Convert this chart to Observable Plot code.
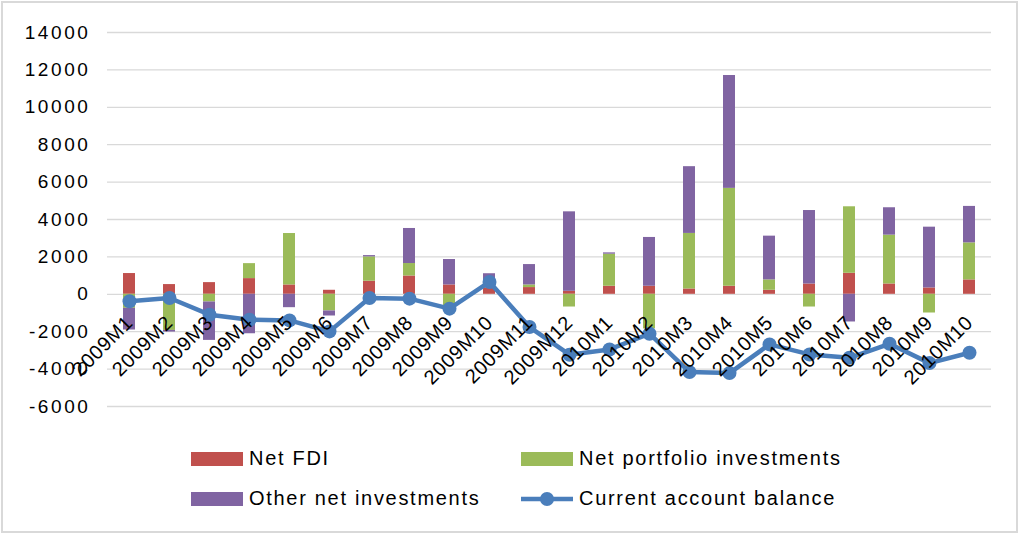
<!DOCTYPE html>
<html>
<head>
<meta charset="utf-8">
<script src="https://cdn.jsdelivr.net/npm/d3@7"></script>
<script src="https://cdn.jsdelivr.net/npm/@observablehq/plot@0.6"></script>
<style>
  html, body { margin: 0; padding: 0; background: #fff; }
  #frame {
    position: absolute; left: 1px; top: 1px; width: 1013px; height: 528px;
    border: 2px solid #d9d9d9; background: #fff; overflow: hidden;
    font-family: "Liberation Sans", Arial, sans-serif;
  }
  #chart { position: absolute; left: 0; top: 0; }
  #chart svg g[aria-label="y-axis tick label"] text { letter-spacing: 2.6px; }
  #chart svg g[aria-label="text"] text { letter-spacing: 0.6px; }
  .leg { position: absolute; display: flex; align-items: center; font-size: 20px; letter-spacing: 1.7px; color: #000; white-space: nowrap; }
  .sw { width: 52px; height: 14px; margin-right: 6px; }
</style>
</head>
<body>
<div id="frame">
  <div id="chart"></div>
</div>
<script>
const months = ["2009M1","2009M2","2009M3","2009M4","2009M5","2009M6","2009M7","2009M8","2009M9","2009M10","2009M11","2009M12",
                "2010M1","2010M2","2010M3","2010M4","2010M5","2010M6","2010M7","2010M8","2010M9","2010M10"];
const netFDI       = [1110, 520, 625, 840, 500, 215, 700, 980, 500, 350, 360, 160, 430, 430, 285, 430, 215, 550, 1125, 553, 340, 770];
const netPortfolio = [-750, -1930, -410, 800, 2750, -890, 1300, 665, -680, 50, 140, -680, 1715, -1850, 2970, 5235, 555, -680, 3555, 2610, -1000, 1980];
const otherNet     = [-1160, -90, -2055, -2110, -715, -270, 70, 1875, 1360, 700, 1090, 4250, 70, 2610, 3570, 6035, 2340, 3930, -1480, 1465, 3250, 1950];
const currentAccount = [-375, -200, -1090, -1360, -1395, -1983, -200, -232, -768, 660, -1750, -3230, -2950, -2108, -4160, -4215, -2680, -3216, -3395, -2645, -3680, -3125];
const seriesNames = ["Net FDI", "Net portfolio investments", "Other net investments"];
const lineName = "Current account balance";
const seriesColors = ["#C0504D", "#9BBB59", "#8064A2"];
const lineColor = "#4A7EBB";
const yTicks = [-6000, -4000, -2000, 0, 2000, 4000, 6000, 8000, 10000, 12000, 14000];

const seriesValues = [netFDI, netPortfolio, otherNet];
const bars = months.flatMap((m, i) => seriesNames.map((s, k) => ({month: m, series: s, value: seriesValues[k][i]})));
const ca = months.map((m, i) => ({month: m, value: currentAccount[i]}));

const chart = Plot.plot({
  width: 1013,
  height: 430,
  marginLeft: 104,
  marginRight: 25,
  marginTop: 29,
  marginBottom: 27,
  style: {fontFamily: "'Liberation Sans', Arial, sans-serif", background: "transparent", color: "#000"},
  x: {type: "band", domain: months, padding: 0, axis: null},
  y: {domain: [-6000, 14000], axis: null},
  color: {domain: seriesNames, range: seriesColors},
  marks: [
    Plot.ruleY(yTicks, {stroke: "#d9d9d9", strokeWidth: 1.3}),
    Plot.axisY({ticks: yTicks, tickSize: 0, tickPadding: 17, fontSize: 19, label: null, tickFormat: d => String(d)}),
    Plot.barY(bars, {x: "month", y: "value", fill: "series", order: seriesNames, insetLeft: 14, insetRight: 14}),
    Plot.line(ca, {x: "month", y: "value", stroke: lineColor, strokeWidth: 4.5}),
    Plot.dot(ca, {x: "month", y: "value", r: 7, fill: lineColor}),
    Plot.text(months, {x: d => d, y: () => 0, text: d => d, rotate: -45, textAnchor: "end", fontSize: 20, dx: 0, dy: 25, fill: "#000"})
  ]
});
document.getElementById("chart").appendChild(chart);

const frame = document.getElementById("frame");
const legendItems = [
  {name: seriesNames[0], color: seriesColors[0], left: 188, top: 444, type: "bar"},
  {name: seriesNames[1], color: seriesColors[1], left: 518, top: 444, type: "bar"},
  {name: seriesNames[2], color: seriesColors[2], left: 188, top: 484, type: "bar"},
  {name: lineName, color: lineColor, left: 518, top: 484, type: "line"}
];
for (const it of legendItems) {
  const d = document.createElement("div");
  d.className = "leg";
  d.style.left = it.left + "px";
  d.style.top = it.top + "px";
  if (it.type === "bar") {
    d.innerHTML = `<div class="sw" style="background:${it.color}"></div><span>${it.name}</span>`;
  } else {
    d.innerHTML = `<svg width="52" height="20" style="margin-right:6px"><line x1="0" y1="10" x2="52" y2="10" stroke="${it.color}" stroke-width="4.5"/><circle cx="26" cy="10" r="7" fill="${it.color}"/></svg><span>${it.name}</span>`;
  }
  frame.appendChild(d);
}
</script>
</body>
</html>
